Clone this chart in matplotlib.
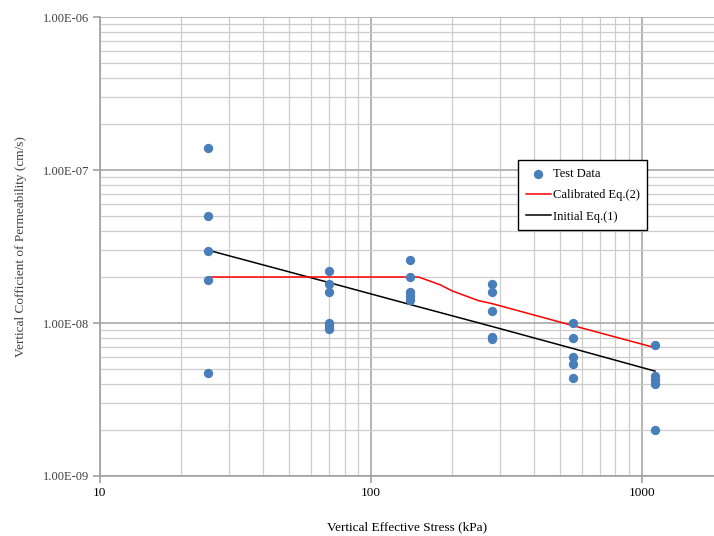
import matplotlib
matplotlib.use('Agg')
import matplotlib.pyplot as plt
from matplotlib.ticker import FixedLocator, FuncFormatter, NullFormatter, LogLocator

plt.rcParams['font.family'] = ['Liberation Serif', 'DejaVu Serif']

# test data (stress kPa, permeability cm/s)
stress = [25, 25, 25, 25, 25,
          70, 70, 70, 70, 70, 70,
          140, 140, 140, 140, 140,
          280, 280, 280, 280, 280,
          560, 560, 560, 560, 560,
          1120, 1120, 1120, 1120, 1120]
perm = [1.39e-7, 5.0e-8, 2.95e-8, 1.9e-8, 4.7e-9,
        2.2e-8, 1.8e-8, 1.6e-8, 1.0e-8, 9.5e-9, 9.1e-9,
        2.6e-8, 2.0e-8, 1.6e-8, 1.5e-8, 1.41e-8,
        1.8e-8, 1.6e-8, 1.2e-8, 8.1e-9, 7.9e-9,
        1.0e-8, 8.0e-9, 6.0e-9, 5.4e-9, 4.4e-9,
        7.2e-9, 4.5e-9, 4.26e-9, 4.0e-9, 2.0e-9]

# calibrated Eq.(2)
cal_x = [25, 70, 140, 150, 180, 200, 250, 280, 560, 1120]
cal_y = [2.0e-8, 2.0e-8, 2.0e-8, 2.0e-8, 1.78e-8, 1.62e-8, 1.4e-8, 1.34e-8, 9.6e-9, 6.9e-9]

# initial Eq.(1)
ini_x = [25, 70, 140, 280, 560, 1120]
ini_y = [3.0e-8, 1.84e-8, 1.32e-8, 9.5e-9, 6.8e-9, 4.85e-9]

fig = plt.figure(figsize=(7.14, 5.36), dpi=100)
ax = fig.add_axes([0.14, 0.112, 0.86, 0.856])

ax.set_xscale('log')
ax.set_yscale('log')
ax.set_xlim(10, 1850)
ax.set_ylim(1e-9, 1e-6)

ax.grid(True, which='minor', color='#cccccc', linewidth=0.9)
ax.grid(True, which='major', color='#b4b4b4', linewidth=1.4)
ax.set_axisbelow(True)

ax.plot(ini_x, ini_y, color='black', linewidth=1.1, label='Initial Eq.(1)', zorder=2)
ax.plot(cal_x, cal_y, color='red', linewidth=1.1, label='Calibrated Eq.(2)', zorder=2)
ax.scatter(stress, perm, s=45, color='#4a7ebb', label='Test Data', zorder=3, linewidths=0)

ax.yaxis.set_major_locator(FixedLocator([1e-9, 1e-8, 1e-7, 1e-6]))
ax.yaxis.set_minor_locator(LogLocator(base=10, subs=range(2, 10)))
ax.yaxis.set_major_formatter(FuncFormatter(lambda v, p: '%.2E' % v))
ax.yaxis.set_minor_formatter(NullFormatter())
ax.xaxis.set_major_formatter(FuncFormatter(lambda v, p: '%d' % v))
ax.xaxis.set_minor_formatter(NullFormatter())

for s in ['top', 'right']:
    ax.spines[s].set_visible(False)
for s in ['left', 'bottom']:
    ax.spines[s].set_color('#a0a0a0')
    ax.spines[s].set_linewidth(1.2)
ax.tick_params(which='both', length=0)
ax.tick_params(axis='y', which='major', length=5, width=1.2, color='#a0a0a0', labelsize=9, labelcolor='#404040', pad=3)
ax.tick_params(axis='x', which='major', length=5, width=1.2, color='#a0a0a0', labelsize=9.5, pad=3)

ax.set_xlabel('Vertical Effective Stress (kPa)', fontsize=9.5, labelpad=16)
ax.set_ylabel('Vertical Cofficient of Permeability (cm/s)', fontsize=9.5, color='#404040', labelpad=11)

handles, labels = ax.get_legend_handles_labels()
order = [2, 1, 0]
leg = ax.legend([handles[i] for i in order], [labels[i] for i in order],
                loc='upper left', bbox_to_anchor=(0.681, 0.688), fontsize=9,
                fancybox=False, framealpha=1, edgecolor='black', borderpad=0.6,
                handlelength=2.0, handletextpad=0.2, labelspacing=0.75, borderaxespad=0)
leg.get_frame().set_linewidth(1.0)

fig.savefig('out.png', dpi=100)
